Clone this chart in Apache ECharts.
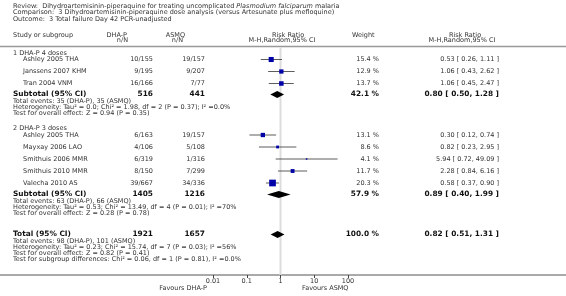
<!DOCTYPE html>
<html>
<head>
<meta charset="utf-8">
<script src="https://cdn.jsdelivr.net/npm/echarts@6/dist/echarts.min.js"></script>
<style>
  html, body { margin: 0; padding: 0; background: #fff; }
  #main { width: 566px; height: 296px; }
</style>
</head>
<body>
<div id="main"></div>
<script>
// study level data
const studies = ['Ashley 2005 THA', 'Janssens 2007 KHM', 'Tran 2004 VNM',
  'Ashley 2005 THA', 'Mayxay 2006 LAO', 'Smithuis 2006 MMR', 'Smithuis 2010 MMR', 'Valecha 2010 AS'];
const dhapCells = ['10/155', '9/195', '16/166', '6/163', '4/106', '6/319', '8/150', '39/667'];
const asmqCells = ['19/157', '9/207', '7/77', '19/157', '5/108', '1/316', '7/299', '34/336'];
const weights = [15.4, 12.9, 13.7, 13.1, 8.6, 4.1, 11.7, 20.3];
const rr = [0.53, 1.06, 1.06, 0.30, 0.82, 5.94, 2.28, 0.58];
const rrLow = [0.26, 0.43, 0.45, 0.12, 0.23, 0.72, 0.84, 0.37];
const rrHigh = [1.11, 2.62, 2.47, 0.74, 2.95, 49.09, 6.16, 0.90];

// pooled rows (subtotal 1, subtotal 2, total)
const pooledLabels = ['Subtotal (95% CI)', 'Subtotal (95% CI)', 'Total (95% CI)'];
const pooledDhap = [516, 1405, 1921];
const pooledAsmq = [441, 1216, 1657];
const pooledWeight = [42.1, 57.9, 100.0];
const pooledRR = [0.80, 0.89, 0.82];
const pooledLow = [0.50, 0.40, 0.51];
const pooledHigh = [1.28, 1.99, 1.31];

const groupLabels = ['1 DHA-P 4 doses', '2 DHA-P 3 doses'];
const notes1 = ['Total events: 35 (DHA-P), 35 (ASMQ)',
  'Heterogeneity: Tau² = 0.0; Chi² = 1.98, df = 2 (P = 0.37); I² =0.0%',
  'Test for overall effect: Z = 0.94 (P = 0.35)'];
const notes2 = ['Total events: 63 (DHA-P), 66 (ASMQ)',
  'Heterogeneity: Tau² = 0.53; Chi² = 13.49, df = 4 (P = 0.01); I² =70%',
  'Test for overall effect: Z = 0.28 (P = 0.78)'];
const notesTotal = ['Total events: 98 (DHA-P), 101 (ASMQ)',
  'Heterogeneity: Tau² = 0.23; Chi² = 15.74, df = 7 (P = 0.03); I² =56%',
  'Test for overall effect: Z = 0.82 (P = 0.41)',
  'Test for subgroup differences: Chi² = 0.06, df = 1 (P = 0.81), I² =0.0%'];

// layout (row centres, px)
const studyY = [59.5, 71.5, 83.5, 135, 147, 159, 171, 183];
const pooledY = [94.5, 194.5, 234.5];
const groupY = [53, 128.5];
const notesY = [[101, 107.2, 113.4], [201, 207.2, 213.4], [241, 247.2, 253.4, 259.6]];
const axisY = 275;
const headLineY = 46.5;
const plotTop = 40;

const FONT = '"DejaVu Sans", Verdana, sans-serif';
const small = 6.5, bold = 7.4;
const txtCol = '#333';

const chart = echarts.init(document.getElementById('main'));
const g = [];
function txt(s, x, y, opt) {
  opt = opt || {};
  g.push({
    type: 'text', silent: true,
    style: {
      text: s, x: x, y: y,
      fontSize: opt.size || small, fontFamily: FONT,
      fontWeight: opt.weight || 'normal',
      fontStyle: opt.style || 'normal',
      fill: opt.color || txtCol,
      align: opt.align || 'left', verticalAlign: 'middle'
    }
  });
}
const ctx = document.createElement('canvas').getContext('2d');
function textW(s, style) {
  ctx.font = (style || '') + ' ' + small + 'px ' + FONT;
  return ctx.measureText(s).width;
}

// title block (italic species name)
const t1 = 'Review:  Dihydroartemisinin-piperaquine for treating uncomplicated ';
const t2 = 'Plasmodium falciparum';
const t3 = ' malaria';
let tx = 13;
txt(t1, tx, 6); tx += textW(t1);
txt(t2, tx, 6, { style: 'italic' }); tx += textW(t2, 'italic');
txt(t3, tx, 6);
txt('Comparison:  3 Dihydroartemisinin-piperaquine dose analysis (versus Artesunate plus mefloquine)', 13, 12.5);
txt('Outcome:  3 Total failure Day 42 PCR-unadjusted', 13, 19);

// column headers
txt('Study or subgroup', 13, 35);
txt('DHA-P', 127, 35, { align: 'right' });
txt('n/N', 128, 40.5, { align: 'right' });
txt('ASMQ', 185, 35, { align: 'right' });
txt('n/N', 183, 40.5, { align: 'right' });
txt('Risk Ratio', 288, 35, { align: 'center' });
txt('M-H,Random,95% CI', 282, 40.5, { align: 'center' });
txt('Weight', 352, 35);
txt('Risk Ratio', 465, 35, { align: 'center' });
txt('M-H,Random,95% CI', 462, 40.5, { align: 'center' });
g.push({ type: 'line', silent: true, shape: { x1: 0, y1: headLineY, x2: 566, y2: headLineY },
  style: { stroke: '#999', lineWidth: 1.5 } });

groupLabels.forEach((s, i) => txt(s, 13, groupY[i]));

const fmtRR = (m, l, h) => m.toFixed(2) + ' [ ' + l.toFixed(2) + ', ' + h.toFixed(2) + ' ]';

studies.forEach((s, i) => {
  const y = studyY[i];
  txt(s, 23, y);
  txt(dhapCells[i], 153, y, { align: 'right' });
  txt(asmqCells[i], 205, y, { align: 'right' });
  txt(weights[i].toFixed(1) + ' %', 379, y, { align: 'right' });
  txt(fmtRR(rr[i], rrLow[i], rrHigh[i]), 499, y, { align: 'right' });
});

pooledLabels.forEach((s, i) => {
  const y = pooledY[i];
  const o = { size: bold, weight: 'bold', color: '#111' };
  txt(s, 13, y, o);
  txt(String(pooledDhap[i]), 153, y, Object.assign({ align: 'right' }, o));
  txt(String(pooledAsmq[i]), 205, y, Object.assign({ align: 'right' }, o));
  txt(pooledWeight[i].toFixed(1) + ' %', 379, y, Object.assign({ align: 'right' }, o));
  txt(fmtRR(pooledRR[i], pooledLow[i], pooledHigh[i]), 499, y, Object.assign({ align: 'right' }, o));
});

[notes1, notes2, notesTotal].forEach((arr, k) => {
  arr.forEach((s, j) => txt(s, 13, notesY[k][j]));
});

// full width axis baseline + favours labels
g.push({ type: 'line', silent: true, shape: { x1: 0, y1: axisY, x2: 566, y2: axisY },
  style: { stroke: '#555', lineWidth: 1 } });
txt('Favours DHA-P', 207, 288.5, { align: 'right' });
txt('Favours ASMQ', 302, 288.5);

const studyData = studies.map((s, i) => [rr[i], rrLow[i], rrHigh[i], studyY[i], weights[i]]);
const pooledData = pooledRR.map((v, i) => [v, pooledLow[i], pooledHigh[i], pooledY[i]]);

const option = {
  animation: false,
  grid: { left: 213, right: 218, top: plotTop, bottom: 296 - axisY },
  xAxis: {
    type: 'log', logBase: 10, min: 0.01, max: 100,
    axisLine: { show: false },
    axisTick: { show: true, length: 3, lineStyle: { color: '#444' } },
    axisLabel: { fontSize: small, fontFamily: FONT, color: txtCol, margin: 3,
      formatter: v => String(+(+v).toPrecision(2)) },
    splitLine: { show: false }
  },
  yAxis: { type: 'value', min: plotTop, max: axisY, inverse: true, show: false },
  series: [
    {
      // line of no effect
      type: 'line', data: [[1, headLineY + 1], [1, axisY]], symbol: 'none',
      lineStyle: { color: '#dcdcdc', width: 2 }, z: 1, silent: true
    },
    {
      type: 'custom', data: studyData, z: 3, silent: true,
      renderItem: (params, api) => {
        const y = api.value(3);
        const c = api.coord([api.value(0), y]);
        const l = api.coord([api.value(1), y]);
        const h = api.coord([api.value(2), y]);
        const sz = Math.max(1.5, api.value(4) * 0.33);
        return {
          type: 'group', children: [
            { type: 'line', shape: { x1: l[0], y1: c[1], x2: h[0], y2: c[1] }, style: { stroke: '#333', lineWidth: 0.8 } },
            { type: 'rect', shape: { x: c[0] - sz / 2, y: c[1] - sz / 2, width: sz, height: sz }, style: { fill: '#0000a8' } }
          ]
        };
      }
    },
    {
      type: 'custom', data: pooledData, z: 3, silent: true,
      renderItem: (params, api) => {
        const y = api.value(3);
        const c = api.coord([api.value(0), y]);
        const l = api.coord([api.value(1), y]);
        const h = api.coord([api.value(2), y]);
        const dh = 3.5;
        return {
          type: 'polygon',
          shape: { points: [[l[0], c[1]], [c[0], c[1] - dh], [h[0], c[1]], [c[0], c[1] + dh]] },
          style: { fill: '#000' }
        };
      }
    }
  ],
  graphic: g
};
chart.setOption(option);
</script>
</body>
</html>
